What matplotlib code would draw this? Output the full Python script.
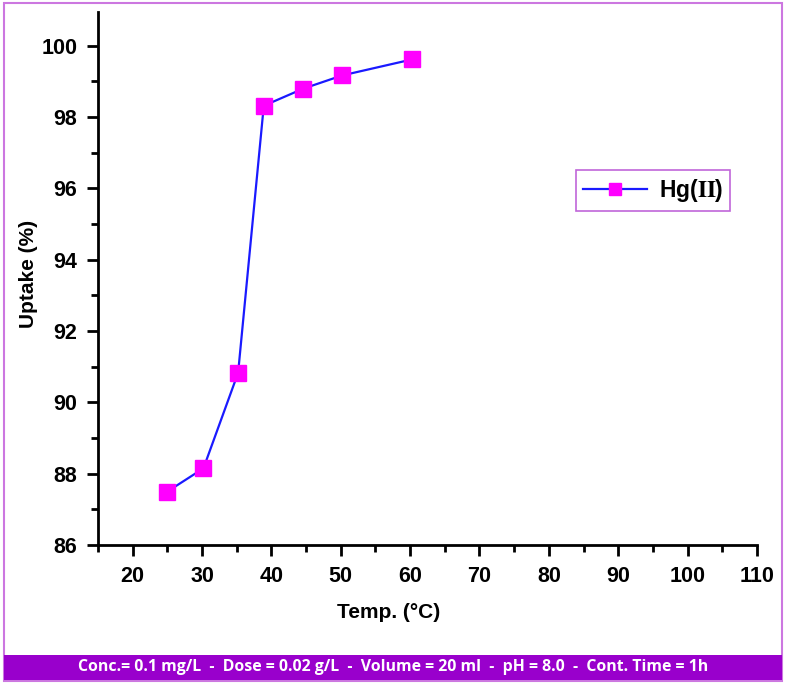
import matplotlib.pyplot as plt
from matplotlib.patches import Rectangle

temp = [25, 30.2, 35.2, 38.9, 44.6, 50.2, 60.3]
uptake = [87.5, 88.15, 90.83, 98.32, 98.8, 99.17, 99.62]
x_ticks = [20, 30, 40, 50, 60, 70, 80, 90, 100, 110]
y_ticks = [86, 88, 90, 92, 94, 96, 98, 100]
series_name = "Hg($\\mathbf{II}$)"
footer = "Conc.= 0.1 mg/L  -  Dose = 0.02 g/L  -  Volume = 20 ml  -  pH = 8.0  -  Cont. Time = 1h"

plt.rcParams['font.family'] = ['Liberation Sans', 'DejaVu Sans']
plt.rcParams['mathtext.fontset'] = 'stix'

fig = plt.figure(figsize=(7.86, 6.84), dpi=100)
ax = fig.add_axes([0.1247, 0.2032, 0.8383, 0.7793])

ax.plot(temp, uptake, color='#1a1aff', lw=1.6, marker='s', ms=12,
        mfc='#ff00ff', mec='#ff00ff', label=series_name)

ax.set_xlim(15, 110)
ax.set_ylim(86, 100.95)
ax.set_xticks(x_ticks)
ax.set_yticks(y_ticks)
ax.set_xticks(range(15, 111, 5), minor=True)
ax.set_yticks(range(86, 101, 1), minor=True)
for lab in ax.get_xticklabels() + ax.get_yticklabels():
    lab.set_fontweight('bold')
    lab.set_fontsize(15.5)
ax.tick_params(which='major', length=8, width=2, direction='out', pad=7)
ax.tick_params(which='minor', length=5, width=2, direction='out')
ax.spines['top'].set_visible(False)
ax.spines['right'].set_visible(False)
for s in ['left', 'bottom']:
    ax.spines[s].set_linewidth(2)

fig.text(0.494, 0.105, "Temp. (°C)", fontsize=15, fontweight='bold', ha='center', va='center')
fig.text(0.036, 0.6, "Uptake (%)", fontsize=15, fontweight='bold', ha='center', va='center',
         rotation=90)

leg = ax.legend(loc='center', bbox_to_anchor=(0.831, 0.722), bbox_transform=fig.transFigure,
                fancybox=False, edgecolor='#b040d0', numpoints=1, handlelength=2.8,
                handletextpad=0.5, prop={'weight': 'bold', 'size': 16.5},
                borderpad=0.3, markerscale=0.75)
leg.get_frame().set_linewidth(1.2)

# outer frame and footer bar
fig.patches.append(Rectangle((0.005, 0.005), 0.99, 0.99, transform=fig.transFigure,
                             fill=False, edgecolor='#cc77e0', lw=1.5))
fig.patches.append(Rectangle((0.005, 0.006), 0.99, 0.037, transform=fig.transFigure,
                             facecolor='#9900cc', edgecolor='none'))
fig.text(0.5, 0.0245, footer, color='white', fontsize=11.4, fontweight='bold',
         family=['Open Sans', 'DejaVu Sans'], ha='center', va='center')

fig.savefig('out.png', dpi=100)
